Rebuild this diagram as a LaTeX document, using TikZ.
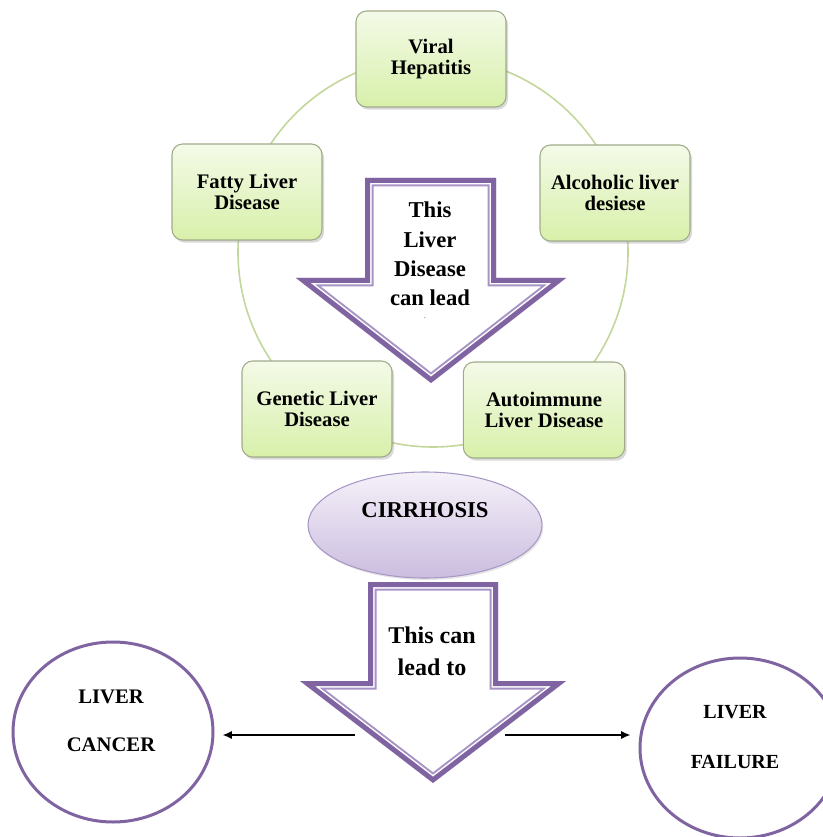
\documentclass[tikz,border=0pt]{standalone}
\usepackage{fontspec}
\setmainfont{Liberation Serif}
\usetikzlibrary{shapes.geometric,arrows.meta,shadows}

\definecolor{arrowpurple}{HTML}{8064A2}
\definecolor{arrowlight}{HTML}{A793C6}
\definecolor{ringgreen}{HTML}{C3D69B}
\definecolor{boxedge}{HTML}{A0AB8A}
\definecolor{boxtop}{HTML}{F4FAE8}
\definecolor{boxbottom}{HTML}{D8F0AA}
\definecolor{cirrtop}{HTML}{F5F1F9}
\definecolor{cirrbottom}{HTML}{CBBDDF}
\definecolor{cirredge}{HTML}{A898C6}

\tikzset{
    disease/.style={rectangle, rounded corners=8pt, draw=boxedge, line width=0.8pt,
        top color=boxtop, bottom color=boxbottom,
        minimum width=112.5pt, minimum height=72pt, align=center,
        font=\fontsize{15.5}{16}\selectfont\bfseries,
        drop shadow={shadow xshift=1.5pt, shadow yshift=-2pt, opacity=0.3}},
    outcome/.style={ellipse, draw=arrowpurple, line width=2.25pt,
        minimum width=150pt, minimum height=135pt},
    outcometext/.style={align=center, font=\fontsize{15.5}{36}\selectfont\bfseries},
    leadtext/.style={align=center, font=\fontsize{17}{22}\selectfont\bfseries},
    pointer/.style={-{Latex[length=7pt,width=6pt]}, line width=1.1pt, shorten >=6pt},
}

% hollow down arrow with a double purple outline
\newcommand{\hollowarrow}[1]{%
    \fill[white] #1;
    \begin{scope}
        \clip #1;
        \draw[arrowlight, line width=12.75pt] #1;
        \draw[white, line width=9.75pt] #1;
        \draw[arrowpurple, line width=7.5pt] #1;
    \end{scope}}

\begin{document}
\begin{tikzpicture}[x=0.75pt, y=-0.75pt]
    \useasboundingbox (0,0) rectangle (822,837);

    % ring of causes
    \node[circle, draw=ringgreen, line width=1.2pt, minimum size=292.5pt] (ring) at (433,252) {};

    \node[disease] (viral) at (431,59) {Viral\\Hepatitis};
    \node[disease] (fatty) at (247,192) {Fatty Liver\\Disease};
    \node[disease] (alcohol) at (615,193) {Alcoholic liver\\desiese};
    \node[disease] (genetic) at (317,409) {Genetic Liver\\Disease};
    \node[disease, minimum width=121pt] (autoimmune) at (544,410) {Autoimmune\\Liver Disease};

    \hollowarrow{(365,178) -- (496,178) -- (496,278) -- (566,278) -- (431,383)
        -- (296,278) -- (365,278) -- cycle}
    \node[leadtext] (leadone) at (430,254) {This\\Liver\\Disease\\can lead};
    \node[font=\tiny] (stray) at (425,318) {.};

    \node[ellipse, draw=cirredge, line width=0.8pt, top color=cirrtop, bottom color=cirrbottom,
        minimum width=175.5pt, minimum height=79.5pt,
        font=\fontsize{17}{20}\selectfont\bfseries,
        drop shadow={shadow xshift=1pt, shadow yshift=-1.5pt, opacity=0.2}]
        (cirrhosis) at (425,525) {\raisebox{22pt}{CIRRHOSIS}};

    \hollowarrow{(368,582) -- (498,582) -- (498,681) -- (566,681) -- (433,783)
        -- (300,681) -- (368,681) -- cycle}
    \node[leadtext, font=\fontsize{18}{24}\selectfont\bfseries] (leadtwo) at (432,651) {This can\\lead to};

    % outcomes
    \node[outcome] (cancer) at (113,732) {};
    \node[outcometext] (cancertext) at (111,721) {LIVER\\CANCER};
    \node[outcome] (failure) at (740,748) {};
    \node[outcometext, font=\fontsize{15}{37.5}\selectfont\bfseries] (failuretext) at (735,737) {LIVER\\FAILURE};

    \coordinate (leftstart) at (355,735);
    \coordinate (rightstart) at (505,735);
    \draw[pointer] (leftstart) -- (leftstart -| cancer.east);
    \draw[pointer] (rightstart) -- (rightstart -| failure.west);
\end{tikzpicture}
\end{document}
